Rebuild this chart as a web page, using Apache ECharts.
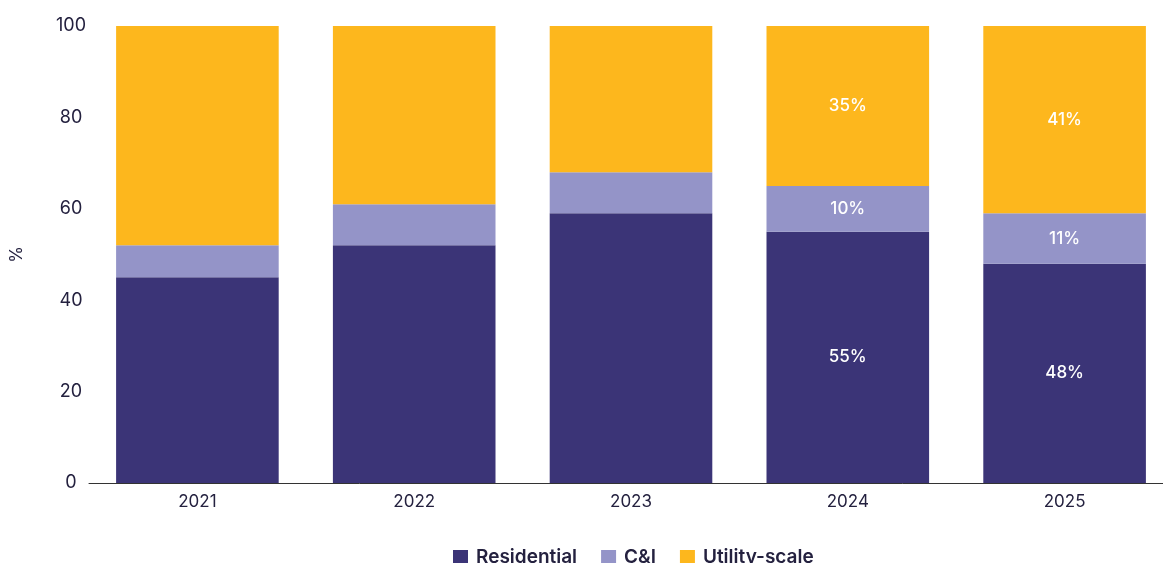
<!DOCTYPE html>
<html>
<head>
<meta charset="utf-8">
<script src="https://cdn.jsdelivr.net/npm/echarts@6/dist/echarts.min.js"></script>
<style>
  html, body { margin: 0; padding: 0; background: #ffffff; overflow: hidden; }
  /* The plot runs past the right edge of the window, so the canvas is wider than the view */
  #chart { width: 1180px; height: 563px; }
</style>
</head>
<body>
<div id="chart"></div>
<script>
// Installation share by segment, percent of annual total
const years = ['2021', '2022', '2023', '2024', '2025'];
const residential = [45, 52, 59, 55, 48];
const commercialIndustrial = [7, 9, 9, 10, 11];
const utilityScale = [48, 39, 32, 35, 41];
// Only the latest two years carry value labels
const labelledYears = ['2024', '2025'];
const yTicks = [0, 20, 40, 60, 80, 100];

const FONT = 'Inter, "Noto Sans", sans-serif';
const TEXT = '#24213f';

function seriesOf(name, values, color) {
  return {
    name: name,
    type: 'bar',
    stack: 'total',
    data: values,
    barCategoryGap: '25%',
    itemStyle: { color: color },
    label: {
      show: true,
      position: 'inside',
      color: '#ffffff',
      fontFamily: FONT,
      fontSize: 17,
      fontWeight: 500,
      formatter: p => labelledYears.includes(p.name) ? p.value + '%' : ''
    }
  };
}

const chart = echarts.init(document.getElementById('chart'));
chart.setOption({
  animation: false,
  grid: { left: 89, top: 26, width: 1084, bottom: 80 },
  legend: {
    top: 543,
    left: 448,
    itemWidth: 15,
    itemHeight: 15,
    itemGap: 24,
    icon: 'rect',
    textStyle: { fontFamily: FONT, fontSize: 19, fontWeight: 600, color: TEXT, padding: [0, 0, 0, 3] },
    data: ['Residential', 'C&I', 'Utility-scale']
  },
  xAxis: {
    type: 'category',
    data: years,
    axisLine: { lineStyle: { color: '#333333', width: 1 } },
    axisTick: { show: false },
    axisLabel: { fontFamily: FONT, fontSize: 17, color: TEXT, margin: 10 }
  },
  yAxis: {
    type: 'value',
    min: yTicks[0],
    max: yTicks[yTicks.length - 1],
    interval: 20,
    name: '%',
    nameLocation: 'middle',
    nameGap: 64,
    nameTextStyle: { fontFamily: FONT, fontSize: 17, color: TEXT },
    axisLine: { show: false },
    axisTick: { show: false },
    splitLine: { show: false },
    axisLabel: { fontFamily: FONT, fontSize: 18, color: TEXT, margin: 18, align: 'center' }
  },
  series: [
    seriesOf('Residential', residential, '#3b3477'),
    seriesOf('C&I', commercialIndustrial, '#9494c8'),
    seriesOf('Utility-scale', utilityScale, '#fdb71d')
  ]
});
</script>
</body>
</html>
